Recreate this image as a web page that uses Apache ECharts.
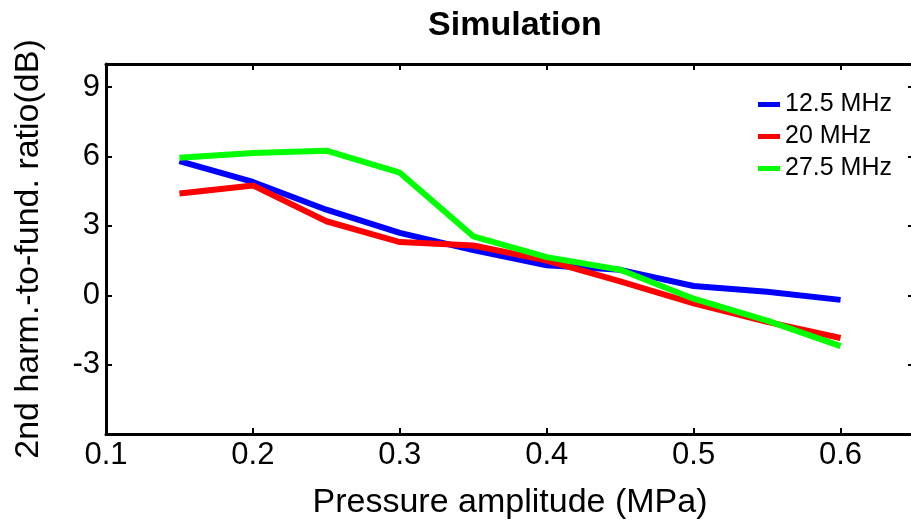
<!DOCTYPE html>
<html>
<head>
<meta charset="utf-8">
<script src="https://cdn.jsdelivr.net/npm/echarts@6/dist/echarts.min.js"></script>
<style>html,body{margin:0;padding:0;background:#fff;}#c{width:911px;height:531px;}</style>
</head>
<body>
<div id="c"></div>
<script>
var pressure = [0.15, 0.2, 0.25, 0.3, 0.35, 0.4, 0.45, 0.5, 0.55, 0.6];
var mhz125 = [5.8, 4.9, 3.7, 2.7, 1.95, 1.3, 1.1, 0.4, 0.15, -0.2];
var mhz20 = [4.4, 4.75, 3.2, 2.3, 2.15, 1.5, 0.6, -0.35, -1.15, -1.85];
var mhz275 = [5.95, 6.15, 6.25, 5.3, 2.55, 1.65, 1.1, -0.15, -1.1, -2.2];
var seriesNames = ['12.5 MHz', '20 MHz', '27.5 MHz'];
var xTickLabels = ['0.1', '0.2', '0.3', '0.4', '0.5', '0.6'];
var yTickLabels = ['-3', '0', '3', '6', '9'];

function pairs(ys) { return pressure.map(function (x, i) { return [x, ys[i]]; }); }

var font = 'Liberation Sans, Arial, Helvetica, sans-serif';
var frame = { show: true, onZero: false, lineStyle: { color: '#000', width: 3 } };
var tick = { show: true, inside: true, length: 6, lineStyle: { color: '#000', width: 2 } };

var chart = echarts.init(document.getElementById('c'));
chart.setOption({
  animation: false,
  backgroundColor: '#fff',
  title: {
    text: 'Simulation', left: 510, top: 4, textAlign: 'center',
    textStyle: { fontFamily: font, fontSize: 34, fontWeight: 'bold', color: '#000' }
  },
  grid: { left: 106, top: 64, width: 808, height: 370, outerBoundsMode: 'none', containLabel: false },
  legend: {
    orient: 'vertical', left: 753, top: 87, itemWidth: 22, itemHeight: 5, itemGap: 7,
    icon: 'rect',
    textStyle: { fontFamily: font, fontSize: 25, lineHeight: 25, color: '#000', padding: [0, 0, 0, 0] },
    data: seriesNames
  },
  xAxis: [{
    type: 'value', min: 0.1, max: 0.65, interval: 0.1,
    name: 'Pressure amplitude (MPa)', nameLocation: 'middle', nameGap: 52,
    nameTextStyle: { fontFamily: font, fontSize: 34, color: '#000' },
    axisLine: frame, axisTick: tick, splitLine: { show: false },
    axisLabel: {
      margin: 6, fontFamily: font, fontSize: 31, color: '#000',
      formatter: function (v) { var s = v.toFixed(1); return xTickLabels.indexOf(s) >= 0 && Math.abs(v - parseFloat(s)) < 1e-6 ? s : ''; }
    }
  }, {
    type: 'value', position: 'top', min: 0.1, max: 0.65, interval: 0.1,
    axisLine: frame, axisTick: tick, axisLabel: { show: false }, splitLine: { show: false }
  }],
  yAxis: [{
    type: 'value', min: -6, max: 10, interval: 3,
    name: '2nd harm.-to-fund. ratio(dB)', nameLocation: 'middle', nameGap: 60,
    nameTextStyle: { fontFamily: font, fontSize: 34, color: '#000' },
    axisLine: frame, axisTick: tick, splitLine: { show: false },
    axisLabel: {
      margin: 6, fontFamily: font, fontSize: 31, color: '#000',
      formatter: function (v) { var s = String(Math.round(v)); return yTickLabels.indexOf(s) >= 0 && Math.abs(v - Math.round(v)) < 1e-6 ? s : ''; }
    }
  }, {
    type: 'value', position: 'right', min: -6, max: 10, interval: 3,
    axisLine: frame, axisTick: tick, axisLabel: { show: false }, splitLine: { show: false }
  }],
  series: [
    { name: seriesNames[0], type: 'line', data: pairs(mhz125), showSymbol: false, symbol: 'none', color: '#0000ff', lineStyle: { width: 6, color: '#0000ff' } },
    { name: seriesNames[1], type: 'line', data: pairs(mhz20), showSymbol: false, symbol: 'none', color: '#ff0000', lineStyle: { width: 6, color: '#ff0000' } },
    { name: seriesNames[2], type: 'line', data: pairs(mhz275), showSymbol: false, symbol: 'none', color: '#00ff00', lineStyle: { width: 6, color: '#00ff00' } }
  ]
});
</script>
</body>
</html>
